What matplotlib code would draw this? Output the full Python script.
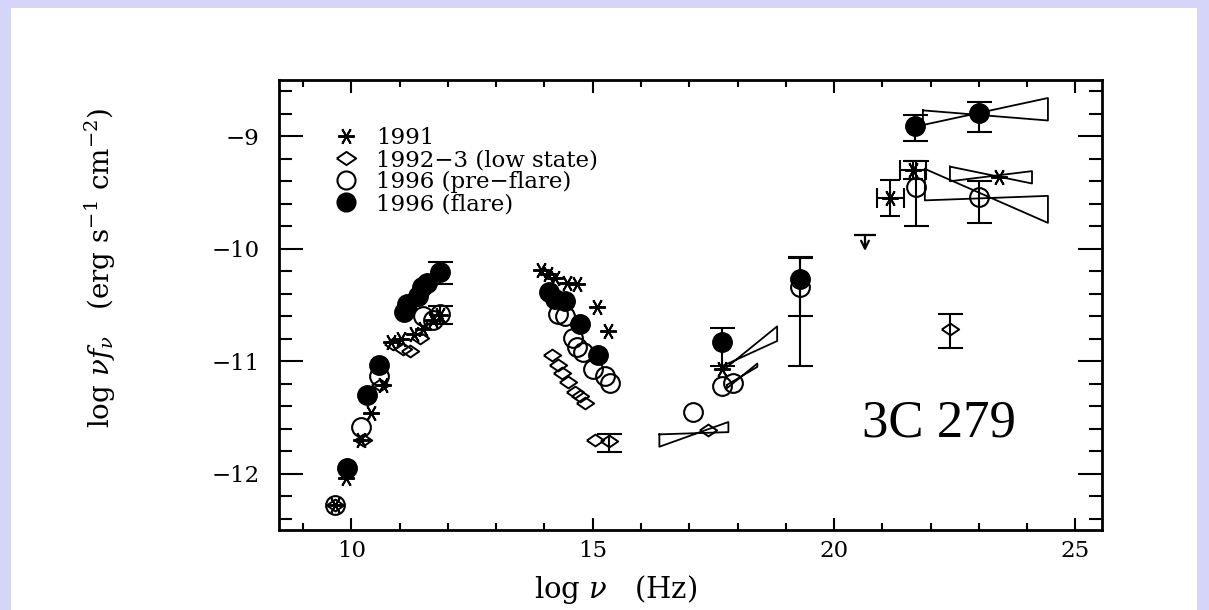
import numpy as np
import matplotlib.pyplot as plt
from matplotlib.patches import Rectangle
from matplotlib.lines import Line2D

plt.rcParams['font.family'] = ['DejaVu Serif']
plt.rcParams['mathtext.fontset'] = 'dejavuserif'

# ---- data: log nu (Hz), log nu f_nu (erg s^-1 cm^-2) ----
# 1991 (asterisks)
x_91 = [9.67, 9.88, 10.19, 10.40, 10.65, 10.81, 11.02, 11.29, 11.49, 11.70, 11.84,
        13.93, 14.08, 14.22, 14.47, 14.68, 15.09, 15.32,
        17.68, 21.16, 21.64, 23.42]
y_91 = [-12.28, -12.04, -11.70, -11.46, -11.21, -10.83, -10.80, -10.76, -10.71, -10.63, -10.59,
        -10.19, -10.22, -10.26, -10.30, -10.31, -10.52, -10.73,
        -11.07, -9.55, -9.30, -9.36]

# 1992-3 low state (diamonds)
x_92 = [9.67, 10.23, 10.60, 10.87, 11.06, 11.22, 11.43,
        14.16, 14.27, 14.37, 14.49, 14.64, 14.74, 14.84,
        15.05, 15.34, 17.39, 22.40]
y_92 = [-12.28, -11.70, -11.21, -10.85, -10.89, -10.91, -10.79,
        -10.94, -11.03, -11.10, -11.18, -11.27, -11.31, -11.37,
        -11.70, -11.71, -11.61, -10.71]

# 1996 pre-flare (open circles)
x_96p = [9.67, 10.19, 10.58, 11.49, 11.70, 11.84,
         14.27, 14.43, 14.60, 14.68, 14.80, 15.01, 15.26, 15.36,
         17.08, 17.68, 17.91, 19.30, 21.70, 23.00]
y_96p = [-12.28, -11.58, -11.13, -10.60, -10.63, -10.58,
         -10.58, -10.60, -10.79, -10.87, -10.92, -11.07, -11.13, -11.19,
         -11.45, -11.22, -11.19, -10.34, -9.45, -9.54]

# 1996 flare (filled circles)
x_96f = [9.90, 10.33, 10.58, 11.08, 11.16, 11.37, 11.47, 11.57, 11.84,
         14.10, 14.22, 14.43, 14.74, 15.11,
         17.68, 19.30, 21.68, 23.00]
y_96f = [-11.95, -11.30, -11.03, -10.56, -10.49, -10.42, -10.34, -10.30, -10.21,
         -10.38, -10.45, -10.46, -10.67, -10.94,
         -10.83, -10.27, -8.91, -8.79]

# vertical error bars: point, bar bottom, bar top
eb_x = [11.84, 11.84, 15.34, 17.68, 19.30, 19.30, 21.70, 23.00, 21.68, 23.00, 22.40]
eb_y = [-10.21, -10.58, -11.71, -10.83, -10.27, -10.34, -9.45, -9.54, -8.91, -8.79, -10.71]
eb_lo = [-10.31, -10.67, -11.81, -11.04, -10.60, -11.04, -9.80, -9.77, -9.04, -8.96, -10.88]
eb_hi = [-10.12, -10.51, -11.65, -10.70, -10.07, -10.08, -9.22, -9.40, -8.81, -8.70, -10.58]

# error bars in both directions (1991 gamma rays)
ebxy_x = [21.16, 21.64]
ebxy_y = [-9.55, -9.30]
ebxy_xerr = [0.28, 0.27]
ebxy_yerr = [0.16, 0.08]

# upper limit
ul_x = [20.64]
ul_y = [-9.88]

# power-law "bowties": left x, right x, y range at the left end, y range at the right end
bt_x1 = [16.38, 17.70, 17.78, 21.84, 21.88, 22.40]
bt_x2 = [17.81, 18.82, 18.41, 24.43, 24.43, 24.10]
bt_l_lo = [-11.76, -11.08, -11.24, -8.90, -9.57, -9.40]
bt_l_hi = [-11.65, -11.04, -11.21, -8.77, -9.29, -9.27]
bt_r_lo = [-11.63, -10.82, -11.05, -8.86, -9.77, -9.42]
bt_r_hi = [-11.54, -10.69, -11.02, -8.66, -9.53, -9.31]

labels = ['1991', '1992\u22123 (low state)', '1996 (pre\u2212flare)', '1996 (flare)']

# ---- figure ----
fig = plt.figure(figsize=(12.09, 6.10), dpi=100)
fig.patch.set_facecolor('#d5d5f9')
fig.add_artist(Rectangle((11 / 1209, 0), 1186 / 1209, 602 / 610,
                         transform=fig.transFigure, facecolor='white',
                         edgecolor='none', zorder=-10))
ax = fig.add_axes([279 / 1209, 1 - 530 / 610, 823 / 1209, 450 / 610])
ax.set_facecolor('white')

star = (6, 2, 90)
diam = [(-1, 0), (0, 0.68), (1, 0), (0, -0.68), (-1, 0)]

ax.plot(x_91, y_91, ls='none', marker=star, ms=12, mec='k', mew=1.4, zorder=3)
ax.plot(x_92, y_92, ls='none', marker=diam, ms=12.5, mfc='none', mec='k', mew=1.4, zorder=3)
ax.plot(x_96p, y_96p, ls='none', marker='o', ms=13.5, mfc='none', mec='k', mew=1.5, zorder=3)
ax.plot(x_96f, y_96f, ls='none', marker='o', ms=14, mfc='k', mec='k', zorder=4)

eb_x = np.array(eb_x)
eb_y = np.array(eb_y)
yerr = [eb_y - np.array(eb_lo), np.array(eb_hi) - eb_y]
ax.errorbar(eb_x, eb_y, yerr=yerr, fmt='none', ecolor='k', elinewidth=1.5,
            capsize=9, capthick=1.5, zorder=2)
ax.errorbar(ebxy_x, ebxy_y, xerr=ebxy_xerr, yerr=ebxy_yerr, fmt='none', ecolor='k',
            elinewidth=1.5, capsize=7, capthick=1.5, zorder=2)

# upper limit: bar + arrow down
ax.plot(ul_x, ul_y, ls='none', marker='_', ms=16, mew=1.6, color='k')
for ux, uy in zip(ul_x, ul_y):
    ax.annotate('', xy=(ux, uy - 0.14), xytext=(ux, uy),
                arrowprops=dict(arrowstyle='->', lw=1.6, color='k',
                                shrinkA=0, shrinkB=0, mutation_scale=14))

for x1, x2, llo, lhi, rlo, rhi in zip(bt_x1, bt_x2, bt_l_lo, bt_l_hi, bt_r_lo, bt_r_hi):
    ax.plot([x1, x2, x2, x1, x1], [lhi, rlo, rhi, llo, lhi], color='k', lw=1.3, zorder=2)

ax.text(20.58, -11.67, '3C 279', fontsize=38, family='Liberation Serif',
        ha='left', va='baseline')

ax.set_xlim(8.5, 25.55)
ax.set_ylim(-12.5, -8.5)
ax.set_xticks([10, 15, 20, 25])
ax.set_xticks(np.arange(9, 26, 1), minor=True)
ax.set_yticks([-12, -11, -10, -9])
ax.set_yticks(np.arange(-12.4, -8.5, 0.2), minor=True)

for s in ax.spines.values():
    s.set_linewidth(2)
ax.tick_params(which='both', direction='in', top=True, right=True, width=1.5,
               labelsize=16.5)
ax.tick_params(axis='y', which='major', length=17, pad=14)
ax.tick_params(axis='x', which='major', length=9, pad=7)
ax.tick_params(axis='y', which='minor', length=9.5)
ax.tick_params(axis='x', which='minor', length=5)

# axis labels (placed as in the original, not centred on the frame)
fig.text(616 / 1209, 1 - 590 / 610, r'log $\nu$   (Hz)', fontsize=21,
         ha='center', va='center')
fig.text(100 / 1209, 1 - 268 / 610, r'log $\nu f_\nu$   (erg s$^{-1}$ cm$^{-2}$)',
         fontsize=20, rotation=90, ha='center', va='center')

handles = [
    Line2D([], [], ls='none', marker=star, ms=12, mec='k', mew=1.4),
    Line2D([], [], ls='none', marker=diam, ms=14, mfc='none', mec='k', mew=1.4),
    Line2D([], [], ls='none', marker='o', ms=13, mfc='none', mec='k', mew=1.5),
    Line2D([], [], ls='none', marker='o', ms=13.5, mfc='k', mec='k'),
]
ax.legend(handles, labels, loc='upper left', bbox_to_anchor=(0.068, 0.895),
          frameon=False, fontsize=16.5, handlelength=1.0, handletextpad=0.8,
          labelspacing=0.0, borderpad=0, borderaxespad=0, numpoints=1)

fig.savefig('out.png', dpi=100, facecolor=fig.get_facecolor())
